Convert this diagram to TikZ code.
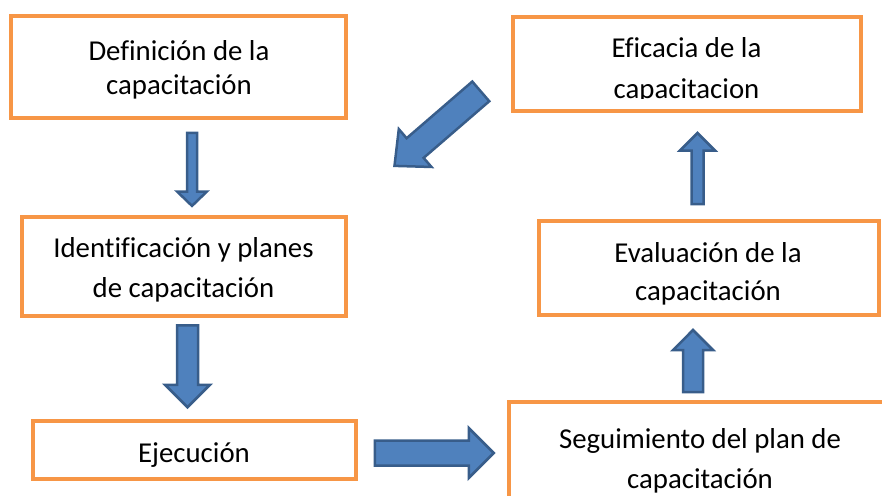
\documentclass[tikz,border=0pt]{standalone}
\usepackage{fontspec}
\setmainfont{Carlito}[Ligatures=NoCommon]
\usetikzlibrary{shapes.arrows}

\definecolor{boxorange}{RGB}{247,150,70}
\definecolor{arrowblue}{RGB}{79,129,189}
\definecolor{arrowedge}{RGB}{56,93,138}

\tikzset{
  box/.style={draw=boxorange, line width=4pt, fill=white, inner sep=0pt},
  boxtext/.style={align=center, inner sep=0pt, anchor=base, font=\fontsize{28.8}{34}\selectfont},
  blockarrow/.style={single arrow, fill=arrowblue, draw=arrowedge, line width=2.5pt,
    inner xsep=0pt, single arrow tip angle=90}
}

\begin{document}
\begin{tikzpicture}[x=1pt,y=-1pt]
\useasboundingbox (0,0) rectangle (882,495);
\clip (0,0) rectangle (882,495);
% Left column
\node [box, minimum width=335pt, minimum height=101pt] (def) at (178,67) {};
\node [boxtext] (defText) at (179,94) {Definición de la\\capacitación};
\node [box, minimum width=324pt, minimum height=99pt] (ide) at (184,266.5) {};
\node [boxtext] (ideText) at (183.5,297) {Identificación y planes\\[6pt]de capacitación};
\node [box, minimum width=323pt, minimum height=58pt] (exe) at (194.5,450) {};
\node [boxtext] (exeText) at (194,462) {Ejecución};
% Right column
\node [box, minimum width=382pt, minimum height=117pt] (seg) at (700,460.5) {};
\node [boxtext] (segText) at (700,488) {Seguimiento del plan de\\[6pt]capacitación};
\node [box, minimum width=340pt, minimum height=94.5pt] (eva) at (709,268) {};
\node [boxtext] (evaText) at (708,300) {Evaluación de la\\[4pt]capacitación};
\node [box, minimum width=348pt, minimum height=93pt] (eff) at (686.5,64) {};
\begin{scope}
  \clip (eff.north west) rectangle (860,98.5);
  \node [boxtext] (effText) at (686.5,98) {Eficacia de la\\[7pt]capacitacion};
\end{scope}
% Arrows
\node [blockarrow, rotate=-90, minimum height=73pt, inner ysep=3.75pt, single arrow head extend=9.75pt, single arrow tip angle=92] (defIde) at (192,167) {};
\node [blockarrow, rotate=-90, minimum height=82pt, inner ysep=9.25pt, single arrow head extend=12pt] (ideExe) at (187.5,361) {};
\node [blockarrow, minimum height=119pt, inner ysep=11.25pt, single arrow head extend=12.5pt] (exeSeg) at (428,453) {};
\node [blockarrow, rotate=90, minimum height=62pt, inner ysep=8.75pt, single arrow head extend=10pt] (segEva) at (693,366) {};
\node [blockarrow, rotate=90, minimum height=71pt, inner ysep=4.75pt, single arrow head extend=11.5pt] (evaEff) at (697.5,171.5) {};
\node [blockarrow, rotate=220.8, minimum height=114pt, inner ysep=11.75pt, single arrow head extend=12pt, single arrow tip angle=85] (effDef) at (443,124) {};
\end{tikzpicture}
\end{document}
